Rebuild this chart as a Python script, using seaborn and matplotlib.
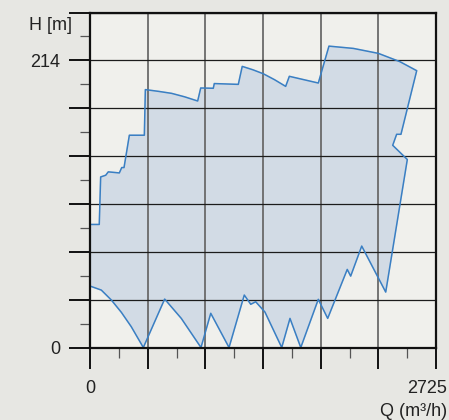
import numpy as np
import pandas as pd
import seaborn as sns
import matplotlib.pyplot as plt
from matplotlib import transforms

# axis scale
q_max = 2725
h_mark = 214

# upper boundary of the operating range, left to right
upper_q = [0, 73, 84, 124, 144, 231, 250, 268, 310, 428, 436, 539, 643, 746, 848, 872, 971, 979,
           1168, 1199, 1282, 1365, 1453, 1541, 1570, 1798, 1882, 2074, 2271, 2441, 2573]
upper_h = [91.7, 91.7, 127.1, 128.4, 130.9, 130.1, 134.1, 134.1, 158.2, 158.2, 192.2, 190.9,
           189.4, 186.8, 183.7, 193.4, 193.2, 196.7, 196.1, 209.5, 207.0, 204.0, 199.6, 194.6,
           202.1, 197.1, 224.6, 222.9, 219.2, 213.0, 206.3]

# right hand edge, top to bottom
right_q = [2449, 2415, 2384, 2499, 2329]
right_h = [158.9, 158.9, 150.7, 140.1, 41.3]

# lower boundary, right to left
lower_q = [2140, 2053, 2026, 1872, 1798, 1660, 1575, 1510, 1378, 1305, 1266, 1215, 1095,
           951, 874, 719, 588, 420, 325, 247, 168, 89, 0]
lower_h = [75.6, 53.2, 58.2, 21.7, 35.9, 0, 21.7, 0, 26.4, 34.1, 32.2, 39.1, 0,
           25.5, 0, 21.7, 36.1, 0, 15.5, 26.2, 35.4, 42.8, 45.8]

df = pd.DataFrame({
    "Q": upper_q + right_q + lower_q + [upper_q[0]],
    "H": upper_h + right_h + lower_h + [upper_h[0]],
})

plt.rcParams['font.family'] = ['Liberation Sans', 'DejaVu Sans']

fig = plt.figure(figsize=(4.49, 4.2), dpi=100, facecolor="#e7e7e3")
ax = fig.add_axes([90 / 449, 1 - 347.5 / 420, 346 / 449, 335 / 420])
ax.set_facecolor("#f0f0ec")

# fill of the envelope, then the outline
ax.fill(df["Q"], df["H"], color="#d2dbe5", zorder=1)
sns.lineplot(data=df, x="Q", y="H", sort=False, estimator=None, color="#3a7fc3",
             linewidth=1.1, ax=ax, zorder=3)

y_top = h_mark / 6 * 7
ax.set_xlim(0, q_max)
ax.set_ylim(0, y_top)

xt = np.linspace(0, q_max, 7)
yt = np.linspace(0, y_top, 8)
ax.set_xticks(xt, ["0", "", "", "", "", "", str(q_max)])
ax.set_yticks(yt, ["0", "", "", "", "", "", str(h_mark), ""])
ax.set_xticks(np.linspace(0, q_max, 13), minor=True)
ax.set_yticks(np.linspace(0, y_top, 15), minor=True)

ax.tick_params(which="major", direction="out", length=15, width=1.4, color="#111111",
               labelsize=13, labelcolor="#222222")
ax.tick_params(axis="y", which="major", pad=6.5)
ax.tick_params(axis="x", which="major", pad=8.5)
ax.tick_params(which="minor", direction="out", length=7, width=0.9, color="#555555")

# last x label sits to the left of its tick
lab = ax.get_xticklabels()[-1]
lab.set_horizontalalignment("right")
lab.set_transform(lab.get_transform() + transforms.ScaledTranslation(0.11, 0, fig.dpi_scale_trans))

ax.grid(axis="y", which="major", color="#1c1c1c", linewidth=0.9, zorder=2)
ax.grid(axis="x", which="major", color="#6a6a6a", linewidth=1.3, zorder=2)
ax.set_axisbelow(False)

for s in ax.spines.values():
    s.set_color("#111111")
    s.set_linewidth(1.6)
    s.set_zorder(5)

ax.set_xlabel("")
ax.set_ylabel("")
fig.text(72 / 449, 1 - 25 / 420, "H [m]", ha="right", va="center", fontsize=13, color="#222222")
fig.text(447 / 449, 1 - 412 / 420, "Q (m³/h)", ha="right", va="center", fontsize=13, color="#222222")

fig.savefig("out.png", dpi=100, facecolor=fig.get_facecolor())
